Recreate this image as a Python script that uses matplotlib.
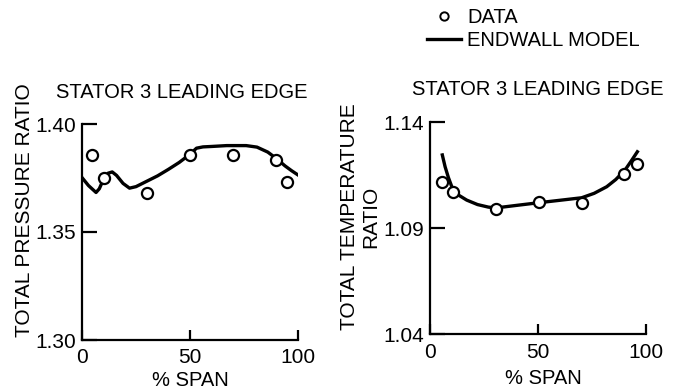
import matplotlib
matplotlib.use('Agg')
from matplotlib import pyplot as plt

plt.rcParams['font.family'] = ['Liberation Sans', 'DejaVu Sans']

# data points (% span, ratio)
p_span = [4.5, 10, 30, 50, 70, 90, 95]
p_data = [1.3856, 1.375, 1.368, 1.3855, 1.3855, 1.3833, 1.3733]
t_span = [5.7, 10.5, 30.4, 50.6, 70.5, 90, 95.7]
t_data = [1.1117, 1.107, 1.0991, 1.1023, 1.1018, 1.1156, 1.1203]

# endwall model curves
p_model_span = [0, 3, 6.5, 8, 10, 12, 14, 16, 19, 22, 25, 30, 35, 40, 45, 50,
                53, 56, 60, 67, 76, 81, 86, 90, 94, 97, 100]
p_model = [1.3752, 1.3715, 1.3683, 1.3700, 1.3745, 1.3772, 1.3778, 1.3762, 1.3725,
           1.3703, 1.3710, 1.3735, 1.3760, 1.3790, 1.3822, 1.3860, 1.3888, 1.3894,
           1.3896, 1.3900, 1.3900, 1.3893, 1.3870, 1.3840, 1.3806, 1.3784, 1.3764]
t_model_span = [5.7, 7, 8.5, 10.5, 13, 17, 22, 27, 30.4, 40, 50.6, 60, 70.2, 76,
                81.8, 86, 90.3, 93, 96]
t_model = [1.1246, 1.1190, 1.1140, 1.1085, 1.1058, 1.1033, 1.1012, 1.1000, 1.0996,
           1.1008, 1.1021, 1.1032, 1.1044, 1.1065, 1.1096, 1.1130, 1.1175, 1.1215, 1.1261]

p_ticks = [1.30, 1.35, 1.40]
t_ticks = [1.04, 1.09, 1.14]
x_ticks = [0, 50, 100]

W, H = 676, 392
fig = plt.figure(figsize=(W / 100, H / 100), dpi=100)
ax1 = fig.add_axes([82 / W, 1 - 340 / H, 216 / W, 216 / H])
ax2 = fig.add_axes([430 / W, 1 - 334.3 / H, 216 / W, 212 / H])

def style(ax, yt, fmt):
    for s in ['top', 'right']:
        ax.spines[s].set_visible(False)
    for s in ['left', 'bottom']:
        ax.spines[s].set_linewidth(1.6)
    ax.set_xlim(0, 100)
    ax.set_ylim(yt[0], yt[-1])
    ax.set_xticks(x_ticks)
    ax.set_yticks(yt)
    ax.set_yticklabels([fmt % v for v in yt])
    ax.tick_params(axis='y', direction='in', length=11, width=1.6, pad=4, labelsize=15)
    ax.tick_params(axis='x', direction='in', length=7.5, width=1.6, pad=6, labelsize=15)

style(ax1, p_ticks, '%.2f')
style(ax2, t_ticks, '%.2f')

line, = ax1.plot(p_model_span, p_model, color='black', lw=2.4)
pts, = ax1.plot(p_span, p_data, 'o', mfc='white', mec='black', ms=8, mew=1.6, clip_on=False)
ax2.plot(t_model_span, t_model, color='black', lw=2.4)
ax2.plot(t_span, t_data, 'o', mfc='white', mec='black', ms=8, mew=1.6, clip_on=False)

fs = 14.5
fig.text(182 / W, 1 - 92 / H, 'STATOR 3 LEADING EDGE', ha='center', va='center', fontsize=fs)
fig.text(538 / W, 1 - 89.5 / H, 'STATOR 3 LEADING EDGE', ha='center', va='center', fontsize=fs)
fig.text(25 / W, 1 - 210 / H, 'TOTAL PRESSURE RATIO', rotation=90, ha='center', va='center', fontsize=15)
fig.text(360 / W, 1 - 217 / H, 'TOTAL TEMPERATURE\nRATIO', rotation=90, ha='center', va='center',
         multialignment='center', fontsize=15, linespacing=1.1)
fig.text(190 / W, 1 - 381 / H, '% SPAN', ha='center', va='center', fontsize=fs)
fig.text(543 / W, 1 - 378 / H, '% SPAN', ha='center', va='center', fontsize=fs)

pts_leg, = ax1.plot([], [], 'o', mfc='white', mec='black', ms=6, mew=1.4)
fig.legend([pts_leg, line], ['DATA', 'ENDWALL MODEL'], loc='upper left',
           bbox_to_anchor=(427 / W, 1 - 8 / H), frameon=False, handlelength=1.7,
           handletextpad=0.3, borderpad=0, borderaxespad=0, labelspacing=0.22, fontsize=14.5)

fig.savefig('out.png', dpi=100)
